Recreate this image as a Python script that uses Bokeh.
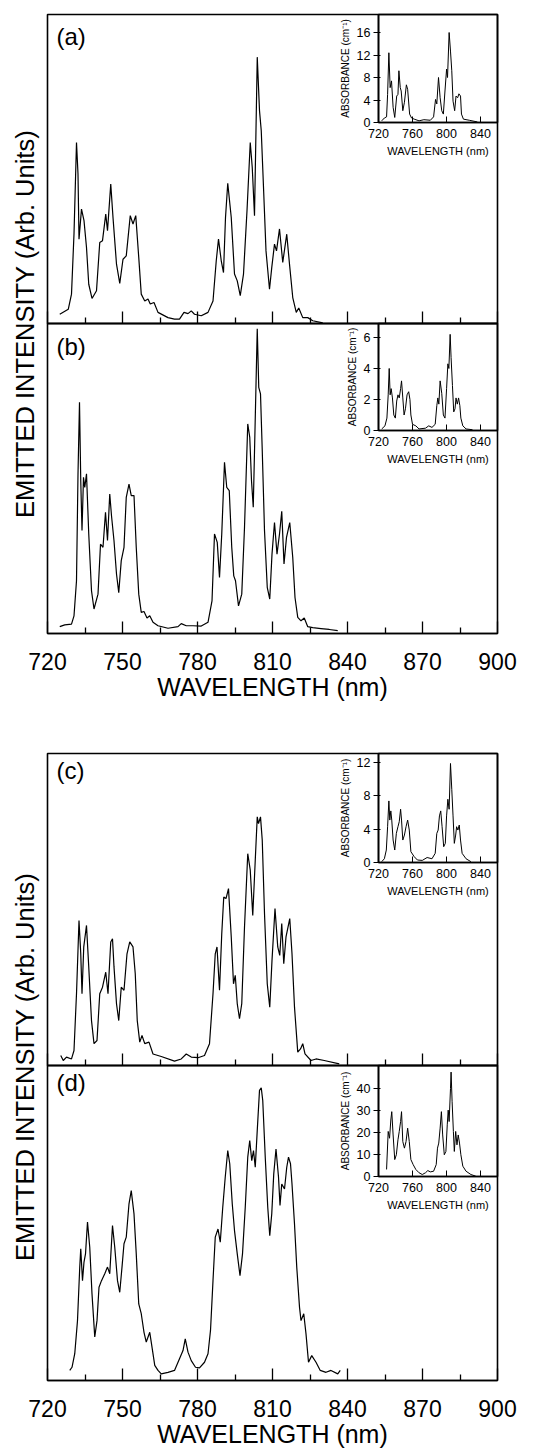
import numpy as np
from bokeh.plotting import figure
from bokeh.models import Range1d, FixedTicker, GridBox, Label, CustomJSTickFormatter
from bokeh.embed import file_html
from bokeh.resources import INLINE
from bokeh.core.properties import value

FONT = "Liberation Sans"

# ---------------- data (wavelength nm, intensity % of panel height) ----------------
A_MAIN = [(724.9, 3.0), (728.3, 4.6), (729.6, 9.5), (730.6, 29), (731.6, 58.6), (732.2, 48.4),
          (732.6, 27.3), (733.6, 37), (734.6, 33.3), (735.6, 24.6), (736.5, 12.7), (737.8, 8.1),
          (739.6, 10.6), (740.9, 26.2), (742.0, 26.8), (743.3, 35.4), (744.0, 30), (745.3, 45.1),
          (746.2, 34.3), (747.6, 19.2), (748.9, 13), (750.2, 20.8), (751.5, 21.9), (753.1, 34.9),
          (754.2, 32.2), (755.3, 34.9), (756.5, 21.4), (757.5, 9.5), (758.9, 7.3), (760.2, 7.9),
          (761.1, 6.3), (762.6, 6.8), (764.2, 3.6), (768.2, 1.9), (770.8, 1.4), (772.8, 1.4),
          (774.6, 3.6), (776.2, 3.2), (777.5, 4.1), (778.8, 3.0), (781.5, 2.5), (784.2, 3.6),
          (786.2, 7.3), (787.5, 20.3), (788.4, 27.3), (789.5, 20.3), (790.4, 16.5), (791.2, 34.3),
          (792.1, 45.4), (793.5, 34.3), (794.8, 16), (795.9, 13.8), (797.1, 9), (798.4, 16),
          (799.8, 36.5), (801.1, 58.6), (801.9, 50.5), (802.8, 34.9), (803.9, 86.2), (804.8, 68.9),
          (805.5, 62.4), (806.4, 44.1), (807.4, 23.5), (808.8, 11.1), (809.7, 18.1), (810.8, 25.7),
          (811.6, 23.5), (812.8, 30.6), (814.1, 19.8), (815.7, 28.9), (816.8, 19.2), (818.1, 8.4),
          (819.5, 3.6), (820.5, 5), (822.1, 1.9), (824.1, 1.9), (826.1, 0.9), (830.1, 0.2)]

B_MAIN = [(724.9, 2.2), (726.9, 2.8), (729.6, 3), (730.6, 5.7), (731.6, 17), (732.2, 51.5),
          (732.8, 74.6), (733.3, 49.3), (733.8, 33.2), (734.4, 50.4), (734.9, 47.1), (735.6, 51.5),
          (736.5, 32.1), (737.6, 13.8), (738.6, 7.9), (740.2, 12.7), (741.2, 28.8), (742.2, 27.8),
          (743.2, 39.1), (744.0, 30), (744.9, 45), (745.6, 38), (746.6, 29.9), (747.6, 19.2),
          (748.5, 13.2), (749.5, 23.5), (750.6, 27.8), (751.5, 43.9), (752.6, 48.2), (753.5, 44.5),
          (754.6, 44.5), (755.5, 27.8), (756.5, 12.7), (757.5, 6.8), (758.6, 7.1), (759.8, 5),
          (760.9, 5.7), (762.2, 3.6), (764.2, 2.5), (768.2, 1.7), (772.2, 2.2), (773.5, 3.2),
          (775.5, 2.5), (778.2, 2.5), (781.5, 2.4), (784.2, 3.6), (785.8, 10.5), (786.8, 32.1),
          (787.9, 29.4), (788.8, 18.1), (789.7, 32.1), (790.8, 55.2), (791.7, 47.1), (792.7, 46.1),
          (793.7, 27.8), (794.5, 18.6), (795.2, 17), (796.4, 8.9), (797.7, 12.7), (798.8, 34.2),
          (800.1, 67.6), (800.9, 63.3), (801.6, 49.3), (802.3, 40.7), (803.2, 73), (803.9, 98.3),
          (804.5, 79.4), (805.2, 77.3), (805.9, 59), (806.8, 33.2), (807.9, 14.9), (808.9, 11.1),
          (809.8, 25.6), (810.8, 35.8), (811.8, 25.6), (812.8, 32.1), (813.7, 39.4), (814.6, 22.4),
          (815.6, 31), (816.9, 35.8), (818.1, 24.5), (819.0, 11.6), (820.1, 5.2), (821.4, 4.1),
          (822.7, 5), (824.1, 2.2), (826.1, 1.9), (829.4, 1.6), (832.7, 1.3), (836.1, 0.9)]

C_MAIN = [(725.3, 3.2), (726.3, 1.6), (727.6, 2.7), (729.6, 2.1), (730.6, 4.8), (731.6, 23),
          (732.6, 46.5), (733.3, 35.8), (733.8, 23), (734.5, 38), (735.6, 44.9), (736.5, 31.6),
          (737.6, 14.4), (738.6, 7), (739.8, 8), (740.9, 23), (742.0, 25.1), (743.3, 29.9),
          (744.2, 23), (745.3, 39.6), (746.0, 40.6), (746.6, 31.6), (747.6, 19.8), (748.5, 14.4),
          (749.5, 25.1), (750.6, 24.1), (751.8, 35.8), (752.9, 39.6), (754.2, 38), (755.1, 29.4),
          (755.9, 14.4), (756.9, 7.5), (757.8, 9.6), (758.9, 7), (760.6, 7.5), (762.2, 3.7),
          (765.5, 2.9), (770.8, 1.4), (773.5, 2.1), (775.5, 3.7), (777.5, 2.7), (780.2, 2.5),
          (782.8, 3.2), (784.8, 7), (786.2, 23), (787.1, 35.8), (787.8, 38), (788.8, 24.1),
          (789.7, 42.2), (790.5, 54), (791.4, 53.5), (792.4, 56.7), (793.5, 41.2), (794.4, 26.2),
          (795.1, 28.9), (795.9, 19.8), (796.8, 15), (797.7, 19.8), (798.8, 44.4), (800.1, 67.9),
          (801.1, 62.6), (802.1, 48.1), (803.1, 65.8), (803.9, 79.7), (804.4, 77.5), (805.2, 79.7),
          (805.9, 72.2), (806.8, 48.7), (807.9, 26.2), (808.9, 18.7), (809.8, 33.7), (811.0, 50.3),
          (812.1, 38), (812.9, 35.3), (813.7, 45.5), (814.5, 32.6), (815.4, 41.2), (816.9, 47.1),
          (817.8, 35.8), (818.8, 18.7), (820.1, 4.3), (821.2, 5.3), (822.1, 7), (823.0, 3.7),
          (825.4, 1.6), (827.4, 2.1), (830.7, 1.6), (836.7, 0.5)]

D_MAIN = [(728.9, 3.2), (729.8, 4.2), (730.9, 8.5), (732.0, 19), (732.9, 36), (733.3, 41.8),
          (734.0, 31.7), (734.6, 37.6), (735.2, 40.2), (736.0, 50.3), (736.9, 42.3), (737.8, 27.5),
          (738.9, 13.8), (739.8, 19), (740.6, 29.6), (741.6, 31.7), (742.9, 33.9), (744.0, 36),
          (744.9, 33.9), (746.0, 49.2), (746.9, 42.3), (748.0, 31.7), (748.9, 28), (749.8, 36),
          (750.6, 43.4), (751.5, 45.5), (752.6, 56.1), (753.5, 60.3), (754.6, 52.9), (755.5, 40.2),
          (756.5, 24.3), (757.5, 21.2), (758.6, 15.3), (759.5, 12.2), (760.9, 15.3), (761.8, 10.6),
          (762.9, 4.8), (764.2, 3.2), (765.5, 2.1), (768.2, 2.6), (770.8, 3.2), (772.8, 6.9),
          (774.2, 9.5), (775.1, 13.2), (776.2, 9), (777.5, 6.3), (779.2, 4.2), (780.8, 4),
          (782.8, 5.8), (784.2, 8.5), (785.2, 15.9), (786.2, 31.7), (787.1, 45.5), (788.2, 48.1),
          (789.1, 43.9), (790.1, 55), (791.1, 64.6), (792.1, 73), (792.9, 68.8), (793.9, 56.1),
          (794.8, 47.6), (795.9, 40.2), (797.0, 33.3), (798.0, 40.2), (799.1, 55), (800.1, 70.9),
          (800.9, 76.2), (801.7, 69.8), (802.4, 73), (803.1, 67.7), (803.9, 79.4), (804.8, 92.1),
          (805.5, 92.9), (806.1, 88.9), (807.1, 70.9), (808.1, 55), (808.9, 46), (809.7, 52.9),
          (810.5, 65.6), (811.4, 73.5), (812.4, 64.6), (813.0, 55.6), (813.7, 62.4), (814.8, 60.8),
          (815.7, 67.7), (816.4, 70.9), (817.2, 68.8), (817.8, 62.4), (818.8, 49.7), (819.7, 36),
          (820.8, 23.3), (821.4, 19), (822.5, 21.2), (823.4, 14.8), (824.4, 5.8), (825.7, 7.9),
          (827.4, 5.8), (829.1, 3.2), (831.4, 2.6), (833.4, 3.2), (836.1, 2.1), (837.1, 3.2)]

# inset absorption spectra (wavelength nm, absorbance cm^-1)
A_INSET = [(723.8, 0.3), (726.9, 0.8), (729.5, 1.0), (730.7, 5.0), (732.2, 12.4), (733.7, 6.2),
           (735.3, 7.4), (737.2, 2.7), (739.1, 0.9), (741.4, 4.7), (742.9, 5.0), (744.0, 9.2),
           (745.6, 6.2), (746.7, 5.6), (748.6, 2.1), (750.5, 3.6), (752.8, 6.7), (754.3, 5.9),
           (756.6, 1.5), (758.9, 0.8), (762.0, 0.6), (767.7, 0.3), (773.4, 0.5), (781.0, 0.4),
           (784.8, 1.0), (787.1, 4.1), (788.6, 3.3), (790.6, 8.0), (792.5, 4.4), (794.4, 2.1),
           (796.3, 1.5), (798.2, 5.6), (800.1, 9.5), (801.2, 8.0), (803.1, 16.0), (804.7, 12.7),
           (806.2, 9.2), (807.7, 3.8), (809.6, 2.1), (811.2, 4.7), (813.1, 4.4), (814.6, 5.1),
           (816.5, 4.7), (817.6, 1.5), (819.9, 0.6), (826.8, 0.4), (836.3, 0.1)]

B_INSET = [(723.8, 0.1), (727.6, 0.3), (729.9, 0.8), (731.4, 2.3), (732.6, 4.0), (733.7, 2.3),
           (734.9, 2.7), (736.4, 2.1), (738.0, 1.0), (739.8, 0.8), (741.4, 1.9), (742.9, 2.3),
           (744.4, 2.1), (746.0, 2.7), (747.1, 3.2), (748.6, 2.1), (750.1, 1.0), (751.7, 1.4),
           (753.6, 2.3), (755.5, 2.5), (757.0, 2.0), (758.1, 1.0), (760.0, 0.4), (763.9, 0.3),
           (767.7, 0.1), (775.3, 0.15), (779.1, 0.3), (782.9, 0.2), (786.7, 0.4), (788.6, 1.6),
           (789.8, 2.1), (791.0, 1.7), (792.5, 3.2), (794.4, 2.4), (796.3, 1.0), (798.2, 0.8),
           (800.1, 2.7), (801.6, 4.3), (802.8, 4.0), (804.3, 6.2), (805.4, 4.7), (807.0, 2.9),
           (808.5, 1.2), (810.0, 1.4), (811.2, 2.1), (812.7, 1.7), (814.2, 2.1), (815.7, 1.6),
           (816.9, 0.8), (819.2, 0.3), (823.0, 0.1), (830.6, 0.05)]

C_INSET = [(723.8, 0.1), (726.9, 0.45), (729.2, 1.5), (730.7, 4.3), (732.2, 7.4), (733.3, 5.1),
           (734.5, 6.2), (735.6, 5.1), (737.2, 2.7), (739.1, 1.5), (741.0, 3.5), (742.9, 4.3),
           (744.4, 4.9), (746.0, 6.4), (747.1, 5.1), (748.6, 2.7), (750.5, 3.3), (752.4, 4.3),
           (754.3, 5.1), (756.2, 3.9), (758.1, 1.3), (762.0, 0.7), (765.8, 0.3), (771.5, 0.25),
           (777.2, 0.6), (782.9, 0.45), (786.7, 1.1), (788.6, 3.5), (790.2, 3.9), (791.7, 5.6),
           (793.2, 6.2), (794.8, 4.3), (796.7, 1.9), (798.6, 2.3), (800.1, 5.6), (801.6, 7.6),
           (803.1, 6.4), (804.7, 11.9), (806.2, 8.8), (807.7, 5.6), (809.2, 2.3), (810.8, 3.3),
           (811.9, 4.3), (813.4, 3.9), (815.0, 4.5), (816.5, 2.7), (818.4, 1.1), (823.0, 0.45),
           (828.7, 0.1)]

D_INSET = [(729.5, 3.2), (731.4, 20.5), (733.0, 17.4), (734.5, 25.7), (735.6, 29.5), (737.2, 18.9),
           (739.1, 7.7), (741.0, 9.9), (742.9, 16.7), (744.4, 20.5), (746.0, 25.0), (747.1, 29.5),
           (748.6, 15.9), (750.5, 12.9), (752.4, 15.9), (754.3, 22.0), (756.2, 15.9), (758.1, 7.7),
           (760.8, 5.4), (763.9, 3.2), (767.7, 1.7), (771.5, 0.9), (775.3, 1.7), (778.0, 2.7),
           (781.0, 2.1), (784.8, 2.4), (787.9, 5.4), (789.4, 12.9), (790.9, 15.2), (792.5, 22.0),
           (794.0, 29.5), (795.5, 18.9), (797.4, 9.9), (799.3, 11.4), (800.9, 23.5), (802.0, 30.2),
           (803.1, 25.0), (804.7, 40.0), (805.4, 47.5), (806.6, 34.0), (808.1, 20.5), (809.2, 11.4),
           (810.8, 20.5), (812.3, 14.4), (813.8, 18.9), (815.3, 15.2), (816.9, 9.9), (819.2, 4.7),
           (823.0, 2.4), (828.7, 0.9), (834.4, 0.15)]

MAIN_TICKS = [720, 750, 780, 810, 840, 870, 900]
MAIN_MINOR = [735, 765, 795, 825, 855, 885]
INSET_XTICKS = [720, 760, 800, 840]
INSET_YTICKS = {"a": [0, 4, 8, 12, 16], "b": [0, 2, 4, 6], "c": [0, 4, 8, 12], "d": [0, 10, 20, 30, 40]}
INSET_YMAX = {"a": 19.2, "b": 6.9, "c": 13.1, "d": 50.5}
PANEL_LABELS = ["(a)", "(b)", "(c)", "(d)"]
XLABEL = "WAVELENGTH (nm)"
YLABEL = "EMITTED INTENSITY (Arb. Units)"
INSET_YLABEL = "ABSORBANCE (cm\u207b\u00b9)"


def unzip(pairs):
    return [p[0] for p in pairs], [p[1] for p in pairs]


def clean(p):
    p.background_fill_alpha = 0
    p.border_fill_alpha = 0
    p.grid.visible = False
    p.outline_line_color = "black"
    p.outline_line_width = 1.6


def main_panel(data, label, label_y, frame_top, frame_bottom, bbottom, show_x):
    height = (frame_bottom - frame_top) + 6 + bbottom
    p = figure(width=526, height=height, x_range=Range1d(720, 900), y_range=Range1d(0, 100),
               output_backend="svg", toolbar_location=None, frame_align=False,
               min_border_left=47, min_border_right=29, min_border_top=6, min_border_bottom=bbottom,
               margin=(frame_top - 6, 0, 0, 0))
    clean(p)
    p.yaxis.visible = False
    x, y = unzip(data)
    p.line(x, y, line_color="black", line_width=1.2)
    ax = p.xaxis[0]
    ax.ticker = FixedTicker(ticks=MAIN_TICKS, minor_ticks=MAIN_MINOR)
    ax.axis_line_color = "black"
    ax.axis_line_width = 1.6
    ax.major_tick_in = 12
    ax.major_tick_out = 0
    ax.minor_tick_in = 6
    ax.minor_tick_out = 0
    ax.major_tick_line_width = 1.3
    ax.minor_tick_line_width = 1.3
    if show_x:
        ax.major_label_text_font = FONT
        ax.major_label_text_font_size = "23px"
        ax.major_label_text_color = "black"
        ax.major_label_standoff = 19
        ax.axis_label = XLABEL
        ax.axis_label_text_font = FONT
        ax.axis_label_text_font_size = "25px"
        ax.axis_label_text_font_style = "normal"
        ax.axis_label_text_color = "black"
        ax.axis_label_standoff = 0
    else:
        ax.formatter = CustomJSTickFormatter(code="return ''")
        ax.major_label_text_font_size = "1px"
        ax.major_label_standoff = 0
    p.add_layout(Label(x=723.6, y=label_y, text=label, text_font=FONT, text_font_size="24px",
                       text_baseline="top", text_align="left", text_color="black"))
    return p


def inset_panel(data, key, frame_top, frame_bottom):
    fh = frame_bottom - frame_top
    p = figure(width=190, height=fh + 6 + 48, x_range=Range1d(720, 860),
               y_range=Range1d(0, INSET_YMAX[key]),
               output_backend="svg", toolbar_location=None, frame_align=False,
               min_border_left=42, min_border_right=29, min_border_top=6, min_border_bottom=48,
               margin=(frame_top - 6, 0, 0, 336))
    clean(p)
    x, y = unzip(data)
    p.line(x, y, line_color="black", line_width=1.0)
    xa = p.xaxis[0]
    xa.ticker = FixedTicker(ticks=INSET_XTICKS, minor_ticks=[])
    xa.major_tick_in = 6
    xa.major_tick_out = 0
    xa.major_label_standoff = 6
    xa.major_label_text_font = FONT
    xa.major_label_text_font_size = "12.5px"
    xa.axis_label = XLABEL
    xa.axis_label_text_font = FONT
    xa.axis_label_text_font_size = "11px"
    xa.axis_label_text_font_style = "normal"
    xa.axis_label_standoff = 4
    ya = p.yaxis[0]
    ya.ticker = FixedTicker(ticks=INSET_YTICKS[key], minor_ticks=[])
    ya.major_tick_in = 2
    ya.major_tick_out = 5
    ya.minor_tick_in = 0
    ya.minor_tick_out = 0
    ya.major_label_standoff = 3
    ya.major_label_text_font = FONT
    ya.major_label_text_font_size = "12.5px"
    ya.axis_label = INSET_YLABEL
    ya.axis_label_text_font = FONT
    ya.axis_label_text_font_size = "10px"
    ya.axis_label_text_font_style = "normal"
    ya.axis_label_standoff = 3
    for a in (xa, ya):
        a.axis_line_width = 1.6
        a.major_label_text_color = "black"
        a.axis_label_text_color = "black"
    return p


def ylabel_panel(top, height):
    p = figure(width=34, height=height, x_range=Range1d(0, 1), y_range=Range1d(0, 1),
               output_backend="svg", toolbar_location=None, min_border=0, frame_align=False,
               margin=(top, 0, 0, 7))
    p.background_fill_alpha = 0
    p.border_fill_alpha = 0
    p.axis.visible = False
    p.grid.visible = False
    p.outline_line_color = None
    p.text(x=[0.5], y=[0.5], text=[YLABEL], angle=np.pi / 2, text_align="center",
           text_baseline="middle", text_font=value(FONT), text_font_size="25.5px", text_color="black")
    return p


pa = main_panel(A_MAIN, PANEL_LABELS[0], 97.1, 14, 323, 20, False)
pb = main_panel(B_MAIN, PANEL_LABELS[1], 96.8, 323, 633, 80, True)
pc = main_panel(C_MAIN, PANEL_LABELS[2], 99.0, 753, 1065, 20, False)
pd = main_panel(D_MAIN, PANEL_LABELS[3], 99.0, 1065, 1380, 70, True)

ia = inset_panel(A_INSET, "a", 14, 122)
ib = inset_panel(B_INSET, "b", 323, 430)
ic = inset_panel(C_INSET, "c", 753, 862)
idd = inset_panel(D_INSET, "d", 1065, 1176)

y1 = ylabel_panel(14, 619)
y2 = ylabel_panel(753, 627)

children = [(f, 0, 0) for f in [pa, pb, pc, pd, ia, ib, ic, idd, y1, y2]]
grid = GridBox(children=children, spacing=0)

open("out.html", "w").write(file_html(grid, INLINE))
